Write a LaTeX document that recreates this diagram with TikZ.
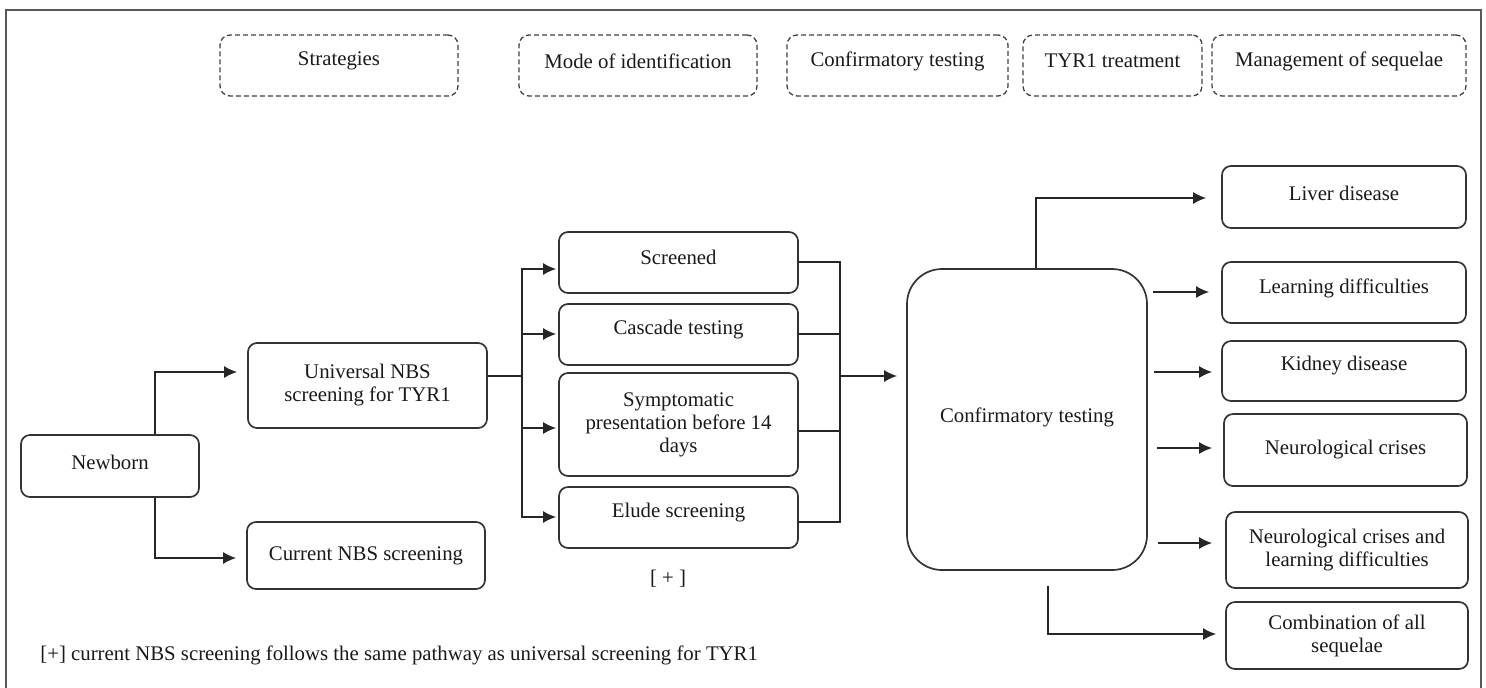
\documentclass[tikz,border=0pt]{standalone}
\usepackage{fontspec}
\setmainfont{Liberation Serif}
\usetikzlibrary{arrows.meta}
\begin{document}
\begin{tikzpicture}[x=0.5pt,y=-0.5pt,
  every node/.style={font=\fontsize{10.4}{11.5}\selectfont, text=black!90},
  box/.style={draw=black!80, line width=0.85pt, rounded corners=4.5pt, inner sep=0pt, align=center},
  hdr/.style={draw=black!75, line width=0.65pt, dash pattern=on 2.5pt off 1.5pt, rounded corners=5pt, inner sep=0pt, minimum height=30.5pt},
  txt/.style={inner sep=0pt, align=center},
  conn/.style={draw=black!85, line width=0.85pt},
  arr/.style={conn, -{Latex[length=6.5pt,width=6pt]}},
]
\useasboundingbox (0,0) rectangle (1486,687);
% frame
\draw[draw=black!65, line width=0.8pt] (6,700) -- (6,10) -- (1481,10) -- (1481,700);

% header boxes
\node[hdr, minimum width=119pt] (hstrat) at (339,65.5) {};
\node[txt] (thstrat) at ([yshift=2.25pt]hstrat.center) {Strategies};
\node[hdr, minimum width=119pt] (hmode) at (638,65.5) {};
\node[txt] (thmode) at ([yshift=2.25pt]hmode.center) {Mode of identification};
\node[hdr, minimum width=110.5pt] (hconf) at (897.5,65.5) {};
\node[txt] (thconf) at ([yshift=2.25pt]hconf.center) {Confirmatory testing};
\node[hdr, minimum width=89.5pt] (htyr) at (1112.5,65.5) {};
\node[txt] (thtyr) at ([yshift=2.25pt]htyr.center) {TYR1 treatment};
\node[hdr, minimum width=127pt] (hmgmt) at (1339,65.5) {};
\node[txt] (thmgmt) at ([yshift=2.25pt]hmgmt.center) {Management of sequelae};

% left column
\node[box, minimum width=89pt, minimum height=31pt] (newborn) at (110,466) {};
\node[txt] (tnewborn) at ([yshift=2pt]newborn.center) {Newborn};
\node[box, minimum width=119.5pt, minimum height=42.5pt] (univ) at (367.5,385.5) {Universal NBS\\screening for TYR1};
\node[box, minimum width=119pt, minimum height=33.5pt] (cur) at (366,555.5) {Current NBS screening};

% mode column
\node[box, minimum width=119.5pt, minimum height=30.5pt] (scr) at (678.5,262.5) {};
\node[txt] (tscr) at ([yshift=2.75pt]scr.center) {Screened};
\node[box, minimum width=119.5pt, minimum height=30.5pt] (casc) at (678.5,334.5) {};
\node[txt] (tcasc) at ([yshift=2.25pt]casc.center) {Cascade testing};
\node[box, minimum width=119.5pt, minimum height=51.5pt] (symp) at (678.5,424.5) {Symptomatic\\presentation before 14\\days};
\node[box, minimum width=119.5pt, minimum height=30.5pt] (elude) at (678.5,517.5) {};
\node[txt] (telude) at ([yshift=2.25pt]elude.center) {Elude screening};
\node[txt] (plus) at (668,579) {[ + ]};

% confirmatory
\node[box, rounded corners=17.5pt, minimum width=120pt, minimum height=150.5pt] (conf) at (1027,419.5) {};
\node[txt] (tconf) at ([yshift=1pt]conf.center) {Confirmatory testing};

% sequelae
\node[box, minimum width=122pt, minimum height=31pt] (liver) at (1344,197) {};
\node[txt] (tliver) at ([yshift=2pt]liver.center) {Liver disease};
\node[box, minimum width=122pt, minimum height=30.5pt] (learn) at (1344,292.5) {};
\node[txt] (tlearn) at ([yshift=2.25pt]learn.center) {Learning difficulties};
\node[box, minimum width=122pt, minimum height=30pt] (kid) at (1344,371) {};
\node[txt] (tkid) at ([yshift=2.5pt]kid.center) {Kidney disease};
\node[box, minimum width=121.5pt, minimum height=36pt] (neuro) at (1345.5,450) {Neurological crises};
\node[box, minimum width=121pt, minimum height=38pt] (neurol) at (1347,550) {Neurological crises and\\learning difficulties};
\node[box, minimum width=121pt, minimum height=33.5pt] (comb) at (1347,635.5) {Combination of all\\sequelae};

% footnote
\node[txt, anchor=west] (foot) at (40,655) {[+] current NBS screening follows the same pathway as universal screening for TYR1};

% connectors: newborn
\draw[arr] ([xshift=22.5pt]newborn.north) |- ([xshift=-5pt,yshift=6.75pt]univ.west);
\draw[arr] ([xshift=22.5pt]newborn.south) |- ([xshift=-5pt,yshift=-1.25pt]cur.west);

% split to modes
\coordinate (split) at (522,376);
\draw[conn] ([yshift=4.75pt]univ.east) -- (split);
\draw[arr] (split) |- ([xshift=-1pt,yshift=-3.25pt]scr.west);
\draw[arr] (split) |- ([xshift=-1pt,yshift=0.25pt]casc.west);
\draw[arr] (split) |- ([xshift=-1pt,yshift=-1.75pt]symp.west);
\draw[arr] (split) |- ([xshift=-1pt,yshift=0.25pt]elude.west);

% merge to confirmatory
\coordinate (merge) at (840,376);
\draw[conn] ([yshift=0.25pt]scr.east) -| (merge);
\draw[conn] ([yshift=0.25pt]casc.east) -| (merge);
\draw[conn] ([yshift=-3.25pt]symp.east) -| (merge);
\draw[conn] ([yshift=-2.25pt]elude.east) -| (merge);
\draw[arr] (merge) -- ([xshift=-4.5pt]merge -| conf.west);

% confirmatory to sequelae
\draw[arr] ([xshift=4.5pt]conf.north) |- ([xshift=-7.5pt,yshift=-0.5pt]liver.west);
\draw[arr] ([xshift=2.5pt,yshift=0.25pt]conf.east |- learn.west) -- ([xshift=-6pt,yshift=0.25pt]learn.west);
\draw[arr] ([xshift=3pt,yshift=-0.5pt]conf.east |- kid.west) -- ([xshift=-4.5pt,yshift=-0.5pt]kid.west);
\draw[arr] ([xshift=4.5pt,yshift=1pt]conf.east |- neuro.west) -- ([xshift=-5.5pt,yshift=1pt]neuro.west);
\draw[arr] ([xshift=5pt,yshift=3.5pt]conf.east |- neurol.west) -- ([xshift=-6.5pt,yshift=3.5pt]neurol.west);
\draw[arr] ([xshift=10.5pt,yshift=-7.5pt]conf.south) |- ([xshift=-4.5pt,yshift=0.75pt]comb.west);
\end{tikzpicture}
\end{document}
